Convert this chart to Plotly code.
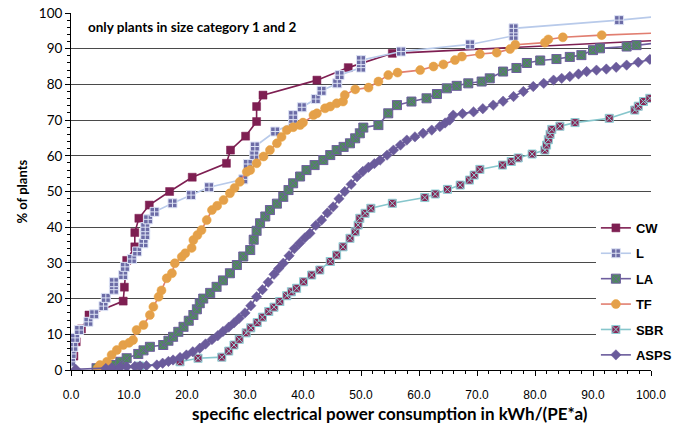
import plotly.graph_objects as go

# cumulative share of plants (%) vs specific electrical power consumption (kWh/(PE*a))
cw_x = [0.5, 0.9, 1.8, 3.1, 9.0, 9.2, 9.6, 11.0, 11.0, 11.7, 13.5, 17.0, 20.9, 26.8, 27.5,
        30.1, 32.0, 32.0, 33.1, 42.4, 47.8, 55.4, 101.0]
cw_y = [3.9, 7.9, 11.5, 15.4, 19.3, 23.2, 30.7, 34.5, 38.5, 42.5, 46.2, 50.0, 54.0, 57.9, 61.6,
        65.5, 69.6, 73.8, 77.0, 81.2, 84.7, 88.7, 92.3]

l_x = [0.0, 0.1, 0.4, 0.7, 1.4, 3.0, 4.0, 5.6, 6.0, 7.4, 7.4, 9.0, 9.3, 10.5, 11.4, 12.5, 12.8,
       12.8, 13.3, 14.4, 17.5, 20.7, 23.8, 29.7, 30.5, 31.6, 31.7, 35.2, 38.3, 38.3, 39.8, 42.2,
       43.2, 45.9, 46.3, 50.0, 50.0, 56.9, 68.8, 76.3, 76.3, 94.5, 101.0]
l_y = [2.3, 4.5, 6.5, 9.0, 11.2, 13.5, 15.6, 17.9, 20.2, 22.5, 24.6, 26.6, 28.9, 31.1, 33.2, 35.5,
       37.8, 40.0, 42.2, 44.3, 46.7, 49.0, 51.2, 53.4, 57.7, 60.2, 62.6, 66.8, 69.1, 71.4, 73.6,
       75.9, 78.2, 80.3, 82.6, 84.7, 86.8, 89.2, 91.2, 93.6, 95.7, 98.0, 99.0]

la_x = [4.4, 7.3, 8.5, 9.6, 11.6, 12.5, 13.6, 15.9, 16.8, 17.6, 18.5, 19.4, 20.3, 21.1, 21.7,
        22.2, 22.8, 24.0, 25.1, 26.2, 27.4, 28.6, 29.7, 30.9, 31.5, 32.0, 32.6, 33.5, 34.3, 35.5,
        36.6, 37.5, 38.3, 39.5, 40.6, 42.0, 43.5, 44.7, 45.8, 47.0, 48.1, 49.0, 49.8, 50.4, 53.0,
        54.7, 56.2, 58.7, 61.3, 63.1, 64.8, 66.5, 68.5, 70.8, 72.2, 74.5, 76.8, 78.6, 80.9, 83.7,
        86.0, 88.0, 90.0, 91.2, 95.8, 97.5, 101.0]
la_y = [0.5, 1.4, 2.3, 3.3, 4.5, 5.5, 6.5, 7.0, 8.2, 9.3, 10.7, 12.1, 13.8, 15.4, 17.0,
        18.7, 20.0, 21.6, 23.3, 25.1, 27.1, 29.4, 31.8, 33.6, 36.5, 39.0, 41.1, 43.0, 44.8, 46.6,
        48.5, 50.4, 52.3, 54.2, 56.0, 57.4, 58.8, 60.2, 61.6, 62.5, 63.5, 64.9, 66.3, 67.9, 68.6,
        71.9, 74.2, 75.2, 76.1, 77.3, 78.9, 79.6, 80.3, 80.8, 81.7, 83.6, 84.6, 86.0, 86.7, 87.1,
        87.7, 88.2, 89.6, 90.1, 90.6, 91.0, 91.6]

tf_x = [4.6, 5.0, 6.2, 7.0, 7.9, 9.0, 10.0, 10.7, 11.3, 12.5, 13.6, 14.2, 15.1, 15.6, 16.5,
        17.4, 17.9, 19.1, 19.7, 20.8, 21.1, 21.8, 22.5, 23.4, 24.3, 25.2, 26.3, 27.4, 28.2, 29.1,
        30.3, 30.9, 32.0, 33.2, 34.3, 35.5, 36.3, 37.2, 38.3, 39.5, 40.0, 41.8, 42.4, 43.8, 44.7,
        45.8, 46.9, 47.2, 49.0, 51.3, 53.0, 54.7, 56.3, 60.2, 62.5, 64.2, 66.2, 67.4, 70.5, 73.4,
        75.7, 76.6, 81.7, 82.3, 84.8, 91.5, 101.0]
tf_y = [0.5, 1.4, 2.3, 4.2, 5.6, 7.0, 7.6, 8.4, 11.2, 12.6, 15.4, 17.7, 20.5, 22.3, 25.7,
        27.1, 29.9, 31.7, 32.7, 34.2, 36.4, 37.8, 39.2, 42.0, 44.8, 46.0, 47.6, 49.5, 51.0, 52.7,
        55.5, 56.0, 57.9, 59.8, 61.6, 63.5, 65.3, 67.2, 68.0, 68.6, 69.3, 71.4, 71.9, 73.3, 73.8,
        74.7, 75.2, 77.0, 78.6, 79.1, 80.8, 82.6, 83.3, 84.0, 85.0, 85.6, 86.8, 87.8, 88.5, 88.9,
        89.9, 91.1, 91.7, 92.6, 93.2, 93.8, 94.4]

sbr_x = [11.8, 18.8, 21.9, 26.0, 27.2, 28.1, 29.0, 30.2, 31.0, 32.1, 33.0, 34.1, 35.0, 36.0,
         37.2, 38.0, 38.9, 40.1, 41.5, 42.9, 44.7, 45.8, 46.9, 48.1, 49.0, 49.5, 49.8, 50.7,
         51.7, 55.4, 61.0, 62.8, 64.9, 67.1, 68.7, 69.5, 70.5, 74.4, 75.9, 77.1, 79.5, 81.7,
         82.0, 82.3, 82.6, 82.9, 84.3, 86.9, 92.8, 97.2, 97.8, 98.7, 99.8]
sbr_y = [1.1, 2.3, 3.3, 3.6, 5.3, 7.0, 8.6, 10.4, 11.8, 13.3, 14.8, 16.4, 17.6, 19.2,
         20.8, 21.9, 22.9, 24.7, 26.6, 28.0, 30.4, 32.2, 34.5, 36.9, 38.7, 40.6, 42.5, 43.9,
         45.3, 46.7, 48.3, 49.3, 50.6, 51.8, 53.2, 54.6, 56.2, 57.4, 58.4, 59.4, 60.5, 61.6,
         63.0, 64.5, 66.0, 67.4, 68.3, 69.3, 70.5, 72.8, 73.9, 75.2, 76.1]

asps_x = [0.8, 6.0, 7.0, 8.5, 9.6, 11.0, 11.9, 13.0, 14.8, 15.8, 16.8, 17.6, 18.8, 19.9, 21.0,
          22.2, 23.2, 24.3, 25.3, 26.2, 27.2, 28.1, 29.0, 30.0, 31.0, 32.0, 33.0, 34.0, 35.0,
          35.8, 36.6, 37.6, 38.5, 39.4, 40.3, 41.2, 42.2, 43.2, 44.2, 45.2, 46.2, 47.2, 48.3,
          49.3, 50.3, 51.3, 52.3, 53.3, 54.5, 55.6, 56.8, 57.9, 59.3, 60.7, 62.2, 63.6, 64.5,
          65.3, 65.9, 67.5, 69.4, 71.0, 72.8, 74.5, 76.3, 78.0, 79.7, 81.5, 83.2, 84.6, 86.0,
          87.5, 88.9, 90.6, 92.3, 94.0, 95.8, 97.8, 99.8]
asps_y = [0.2, 0.4, 0.6, 0.8, 0.9, 1.0, 1.1, 1.2, 1.4, 1.9, 2.4, 2.8, 3.5, 4.2, 5.1,
          6.1, 7.3, 8.5, 9.6, 10.8, 12.0, 13.2, 14.5, 16.0, 18.0, 20.5, 22.5, 24.6, 26.8,
          28.4, 29.9, 32.0, 34.0, 35.5, 37.0, 38.3, 40.5, 42.0, 44.0, 45.7, 48.0, 50.0, 52.0,
          54.1, 55.6, 56.8, 57.8, 58.8, 60.2, 61.6, 63.0, 64.4, 65.3, 66.3, 67.2, 68.2, 69.2,
          70.0, 71.4, 71.8, 72.3, 73.2, 74.2, 75.3, 76.6, 78.0, 79.4, 80.3, 81.2, 81.7, 82.2,
          82.9, 83.6, 84.0, 84.3, 84.8, 85.4, 86.2, 87.0]

x_ticks = [0, 10, 20, 30, 40, 50, 60, 70, 80, 90, 100]
x_tick_text = ["0.0", "10.0", "20.0", "30.0", "40.0", "50.0", "60.0", "70.0", "80.0", "90.0", "100.0"]
y_ticks = [0, 10, 20, 30, 40, 50, 60, 70, 80, 90, 100]

styles = {
    "CW":   dict(line="#7E1F52", symbol="square", color="#7E1F52", edge="#7E1F52", size=8, ew=0.5),
    "L":    dict(line="#B8CAEA", symbol="square-cross", color="#6C6CA6", edge="#DDE3F5", size=9, ew=1),
    "LA":   dict(line="#6E5E9E", symbol="square-x", color="#4E8A5C", edge="#6E5E9E", size=9, ew=1),
    "TF":   dict(line="#E17E70", symbol="circle", color="#E4A04A", edge="#E8A33C", size=9, ew=0.5),
    "SBR":  dict(line="#86C6CC", symbol="square-x", color="#8A2657", edge="#8FD0D6", size=8, ew=1),
    "ASPS": dict(line="#6A5B9B", symbol="diamond", color="#6A5B9B", edge="#6A5B9B", size=8, ew=0.5),
}
data = [("CW", cw_x, cw_y), ("L", l_x, l_y), ("LA", la_x, la_y),
        ("TF", tf_x, tf_y), ("SBR", sbr_x, sbr_y), ("ASPS", asps_x, asps_y)]

fig = go.Figure()
for name, xs, ys in data:
    s = styles[name]
    fig.add_trace(go.Scatter(
        x=xs, y=ys, mode="lines+markers", name="<b>%s</b>" % name,
        legendgroup=name,
        line=dict(color=s["line"], width=1.6),
        marker=dict(symbol=s["symbol"], size=s["size"], color=s["color"],
                    line=dict(color=s["edge"], width=s["ew"])),
    ))

fig.update_layout(
    width=679, height=430,
    margin=dict(l=71, r=28, t=13, b=60, autoexpand=False),
    paper_bgcolor="white", plot_bgcolor="white",
    showlegend=True,
    legend=dict(x=0.905, y=0.44, xanchor="left", yanchor="top",
                bgcolor="white", borderwidth=0,
                font=dict(family="Liberation Sans, Arial", size=13, color="black"),
                tracegroupgap=5.5, itemwidth=30, traceorder="grouped"),
    xaxis=dict(range=[0, 100], tickvals=x_ticks, ticktext=x_tick_text,
               automargin=False, showgrid=False, zeroline=False,
               showline=True, linecolor="black", linewidth=1,
               ticks="outside", ticklen=5, tickcolor="black",
               minor=dict(ticks="outside", ticklen=3, dtick=2, tickcolor="black", showgrid=False),
               tickfont=dict(family="Liberation Sans, Arial", size=12, color="black"),
               ticklabelstandoff=9),
    yaxis=dict(range=[0, 100], tickvals=y_ticks,
               automargin=False,
               showgrid=True, gridcolor="#4a4a4a", gridwidth=1, zeroline=False,
               showline=True, linecolor="black", linewidth=1,
               ticks="outside", ticklen=5, tickcolor="black",
               minor=dict(ticks="outside", ticklen=3, dtick=2, tickcolor="black", showgrid=False),
               tickfont=dict(family="Lato", size=13.5, color="black")),
    annotations=[
        dict(text="<b>only plants in size category 1 and 2</b>",
             xref="paper", yref="paper", x=0.025, y=0.961,
             xanchor="left", yanchor="middle", showarrow=False,
             font=dict(family="Lato", size=13.5, color="black")),
        dict(text="<b>specific electrical power consumption in kWh/(PE*a)</b>",
             xref="paper", yref="paper", x=0.55, y=0, yshift=-43,
             xanchor="center", yanchor="middle", showarrow=False,
             font=dict(family="Lato", size=17, color="black")),
        dict(text="<b>% of plants</b>",
             xref="paper", yref="paper", x=0, y=0.5, xshift=-50, textangle=-90,
             xanchor="center", yanchor="middle", showarrow=False,
             font=dict(family="Lato", size=13, color="black")),
    ],
)

fig.write_html("out.html")
